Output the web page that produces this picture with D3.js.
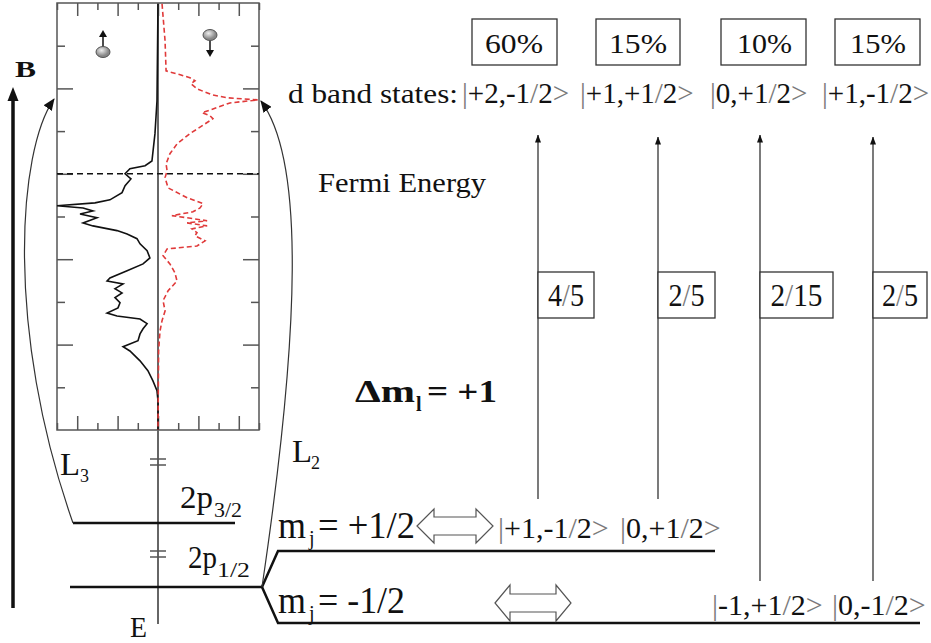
<!DOCTYPE html>
<html>
<head>
<meta charset="utf-8">
<script src="https://cdn.jsdelivr.net/npm/d3@7"></script>
<style>
  body { margin: 0; background: #fff; }
</style>
</head>
<body>
<div id="chart"></div>
<script>
// spin-resolved DOS, [energy (eV), states]
const spinUp = [[3.98,0],[1.71,0.05],[0.94,0.15],[0.30,0.3],[0.19,0.64],[0.12,1.39],[0,1.63],[-0.12,1.34],
  [-0.28,1.63],[-0.44,1.78],[-0.61,2.38],[-0.68,3.12],[-0.75,5.0],[-0.80,3.71],[-0.87,3.22],[-0.94,3.86],
  [-1.03,3.02],[-1.15,3.71],[-1.22,3.22],[-1.33,2.03],[-1.41,1.53],[-1.52,1.04],[-1.64,0.89],[-1.80,0.54],
  [-1.97,0.40],[-2.11,0.74],[-2.27,1.53],[-2.44,2.38],[-2.51,2.52],[-2.58,1.73],[-2.69,2.13],[-2.79,1.78],
  [-2.90,2.13],[-3.02,1.88],[-3.14,1.98],[-3.26,2.52],[-3.33,2.03],[-3.40,0.89],[-3.51,0.54],[-3.63,0.74],
  [-3.75,0.89],[-3.91,0.99],[-4.05,1.73],[-4.15,1.39],[-4.38,0.89],[-4.61,0.50],[-4.85,0.25],[-5.08,0.05],
  [-5.32,0],[-6,0]]
const spinDown = [[3.98,0.2],[3.11,0.35],[2.41,0.40],[2.32,1.1],[2.25,1.58],[2.18,1.83],[2.11,1.63],[1.99,1.93],
  [1.85,2.67],[1.78,3.42],[1.73,4.95],[1.66,3.56],[1.55,2.92],[1.43,2.18],[1.36,2.57],[1.29,2.72],[1.17,2.33],
  [0.94,1.58],[0.70,0.94],[0.47,0.59],[0.23,0.40],[0.07,0.45],[-0.09,0.35],[-0.33,0.50],[-0.56,1.44],
  [-0.70,2.23],[-0.80,2.08],[-0.89,1.73],[-0.98,0.69],[-1.03,1.44],[-1.10,2.43],[-1.15,1.44],[-1.22,2.43],
  [-1.29,1.68],[-1.38,1.93],[-1.45,1.83],[-1.57,2.33],[-1.69,1.93],[-1.76,0.45],[-1.92,0.25],[-2.11,0.59],
  [-2.32,0.84],[-2.51,0.94],[-2.74,0.50],[-2.97,0.25],[-3.21,0.35],[-3.44,0.20],[-3.68,0.10],[-4.15,0.03],[-6,0]]
const peakEnergy = 1.75

// transitions
const finalStates = ["|+2,-1/2>", "|+1,+1/2>", "|0,+1/2>", "|+1,-1/2>"]
const weights = ["60%", "15%", "10%", "15%"]
const initialStates = ["|+1,-1/2>", "|0,+1/2>", "|-1,+1/2>", "|0,-1/2>"]
const initialMj = ["+1/2", "+1/2", "-1/2", "-1/2"]
const probabilities = ["4/5", "2/5", "2/15", "2/5"]

// layout
const finalX = [462, 580, 710, 822]
const weightX = [472, 596, 721, 835], weightW = [85, 84, 85, 85]
const weightTX = [485, 609, 737, 850], weightTW = [58, 58, 55, 56]
const arrowX = [538, 658, 760, 873]
const fracW = [56, 57, 73, 54], fracTW = [36, 36, 52, 36]
const initX = [498, 620, 712, 832]

const SERIF = "'Liberation Serif', 'Times New Roman', Times, 'DejaVu Serif', serif"
const width = 931, height = 643
const svg = d3.select("#chart").append("svg")
  .attr("width", width).attr("height", height)
  .attr("font-family", SERIF)

const defs = svg.append("defs")
defs.append("marker").attr("id", "big").attr("viewBox", "0 0 12 10")
  .attr("refX", 11).attr("refY", 5).attr("markerWidth", 12).attr("markerHeight", 10)
  .attr("markerUnits", "userSpaceOnUse").attr("orient", "auto")
  .append("path").attr("d", "M0,0L12,5L0,10Z").attr("fill", "#111")
defs.append("marker").attr("id", "small").attr("viewBox", "0 0 8 6")
  .attr("refX", 7.5).attr("refY", 3).attr("markerWidth", 8).attr("markerHeight", 6)
  .attr("markerUnits", "userSpaceOnUse").attr("orient", "auto")
  .append("path").attr("d", "M0,0L8,3L0,6Z").attr("fill", "#111")
const grad = defs.append("radialGradient").attr("id", "ball").attr("cx", "40%").attr("cy", "35%")
grad.append("stop").attr("offset", "0%").attr("stop-color", "#eee")
grad.append("stop").attr("offset", "100%").attr("stop-color", "#888")

// DOS panel
const yE = d3.scaleLinear().domain([-6, 4]).range([430, 3])
const xD = d3.scaleLinear().domain([-5, 5]).range([57, 259])
const even = [-4, -2, 0, 2, 4], odd = [-5, -3, -1, 1, 3, 5]
const yEven = [-4, -2, 0, 2], yOdd = [-5, -3, -1, 1, 3]

const panel = svg.append("g").attr("stroke", "#555")
function ax(axis, vals, size, tx, ty) {
  const g = panel.append("g").attr("transform", `translate(${tx},${ty})`)
    .call(axis.tickValues(vals).tickSize(size).tickSizeOuter(0).tickFormat(""))
  g.select(".domain").remove()
  g.selectAll("line").attr("stroke", "#555").attr("stroke-width", 1.5)
}
ax(d3.axisLeft(yE), yEven, -16, 57, 0)
ax(d3.axisLeft(yE), yOdd, -8, 57, 0)
ax(d3.axisRight(yE), yEven, -16, 259, 0)
ax(d3.axisRight(yE), yOdd, -8, 259, 0)
ax(d3.axisTop(xD), even, -13, 0, 3)
ax(d3.axisTop(xD), odd, -7, 0, 3)
ax(d3.axisBottom(xD), even, -14, 0, 430)
ax(d3.axisBottom(xD), odd, -7, 0, 430)
panel.append("rect").attr("x", xD(-5)).attr("y", yE(4))
  .attr("width", xD(5) - xD(-5)).attr("height", yE(-6) - yE(4))
  .attr("fill", "none").attr("stroke-width", 1.5)

// energy axis through the middle, with breaks
svg.append("line").attr("x1", xD(0)).attr("x2", xD(0)).attr("y1", yE(4)).attr("y2", 624)
  .attr("stroke", "#666").attr("stroke-width", 2)
;[462, 554].forEach(y => {
  ;[-3, 3].forEach(d => svg.append("line").attr("x1", xD(0) - 8).attr("x2", xD(0) + 8)
    .attr("y1", y + d).attr("y2", y + d).attr("stroke", "#555").attr("stroke-width", 1.5))
})

svg.append("line").attr("x1", xD(-5)).attr("x2", xD(5)).attr("y1", yE(0)).attr("y2", yE(0))
  .attr("stroke", "#111").attr("stroke-width", 1.6).attr("stroke-dasharray", "6,4")

svg.append("path").datum(spinUp)
  .attr("d", d3.line().x(d => xD(-d[1])).y(d => yE(d[0])))
  .attr("fill", "none").attr("stroke", "#111").attr("stroke-width", 1.6)
svg.append("path").datum(spinDown)
  .attr("d", d3.line().x(d => xD(d[1])).y(d => yE(d[0])))
  .attr("fill", "none").attr("stroke", "#e03a3a").attr("stroke-width", 1.6).attr("stroke-dasharray", "5,3")

// spin icons
function spin(cx, cy, dir) {
  const g = svg.append("g")
  const base = cy + dir * 5, tip = cy + dir * 22
  g.append("line").attr("x1", cx).attr("x2", cx).attr("y1", base).attr("y2", tip - dir * 6)
    .attr("stroke", "#111").attr("stroke-width", 1.5)
  g.append("path").attr("d", `M${cx - 4},${tip - dir * 7}L${cx + 4},${tip - dir * 7}L${cx},${tip}Z`).attr("fill", "#111")
  g.append("ellipse").attr("cx", cx).attr("cy", cy).attr("rx", 7).attr("ry", 5.5)
    .attr("fill", "url(#ball)").attr("stroke", "#555").attr("stroke-width", 1)
}
spin(103, 52, -1)
spin(210, 35, 1)

// B field arrow
svg.append("line").attr("x1", 13).attr("x2", 13).attr("y1", 608).attr("y2", 98)
  .attr("stroke", "#111").attr("stroke-width", 3.5)
svg.append("path").attr("d", "M7.5,101L18.5,101L13,87Z").attr("fill", "#111")

// core levels
const lv = svg.append("g").attr("stroke", "#111").attr("stroke-width", 2.5).attr("fill", "none")
lv.append("line").attr("x1", 73).attr("x2", 235).attr("y1", 523).attr("y2", 523)
lv.append("line").attr("x1", 70).attr("x2", 262).attr("y1", 587).attr("y2", 587)
lv.append("path").attr("d", "M262,587L278,551L715,551")
lv.append("path").attr("d", "M262,587L278,623L920,623")

// L3 / L2 excitations onto the d peak
const pk = yE(peakEnergy)
const p3 = d3.path(); p3.moveTo(73, 523); p3.bezierCurveTo(5, 330, 18, 150, xD(-5) - 3, pk)
const p2 = d3.path(); p2.moveTo(262, 587); p2.bezierCurveTo(300, 330, 305, 160, xD(5) + 2, pk + 2)
;[p3, p2].forEach(p => svg.append("path").attr("d", p.toString()).attr("fill", "none")
  .attr("stroke", "#333").attr("stroke-width", 1.2).attr("marker-end", "url(#big)"))

// text helpers
function txt(x, y, s, size, len, opts = {}) {
  const t = svg.append("text").attr("x", x).attr("y", y).attr("font-size", size)
    .attr("font-family", SERIF).attr("fill", "#111")
  if (len) t.attr("textLength", len).attr("lengthAdjust", "spacingAndGlyphs")
  if (opts.bold) t.attr("font-weight", "bold")
  if (opts.ket) {
    s.split(/([|/>])/).filter(c => c).forEach(c => {
      t.append("tspan").text(c).attr("fill", /[|/>]/.test(c) ? "#7a7a7a" : "#111")
    })
  } else t.text(s)
  return t
}

txt(15, 77, "B", 23, 21, { bold: true })
txt(288, 103, "d band states:", 28, 170)
txt(318, 192, "Fermi Energy", 27, 168)

finalStates.forEach((s, i) => txt(finalX[i], 103, s, 29, 0, { ket: true }))
weights.forEach((s, i) => {
  svg.append("rect").attr("x", weightX[i]).attr("y", 19).attr("width", weightW[i]).attr("height", 46)
    .attr("fill", "none").attr("stroke", "#333").attr("stroke-width", 1.3)
  txt(weightTX[i], 53, s, 27, weightTW[i])
})

const arrowBottom = d3.scaleOrdinal().domain(["+1/2", "-1/2"]).range([499, 581])
const rowBase = d3.scaleOrdinal().domain(["+1/2", "-1/2"]).range([538, 615])
initialMj.forEach((m, i) => {
  svg.append("line").attr("x1", arrowX[i]).attr("x2", arrowX[i])
    .attr("y1", arrowBottom(m)).attr("y2", i % 2 ? 137 : 135)
    .attr("stroke", "#333").attr("stroke-width", 1.3).attr("marker-end", "url(#small)")
  svg.append("rect").attr("x", arrowX[i]).attr("y", 272).attr("width", fracW[i]).attr("height", 46)
    .attr("fill", "#fff").attr("stroke", "#333").attr("stroke-width", 1.3)
  txt(arrowX[i] + (fracW[i] - fracTW[i]) / 2, 306, probabilities[i], 31, fracTW[i], { ket: true })
  txt(initX[i], rowBase(m), initialStates[i], 30, 0, { ket: true })
})

// labels of the level scheme
txt(60, 475, "L", 32, 20); txt(80, 482, "3", 18)
txt(292, 462, "L", 32, 20); txt(311, 469, "2", 18)
txt(180, 508, "2p", 32, 33); txt(214, 517, "3/2", 20, 28)
txt(188, 568, "2p", 32, 29); txt(217, 577, "1/2", 20, 33)
txt(130, 637, "E", 30, 17)

;[["+1/2", 538, 97], ["-1/2", 613, 87]].forEach(([m, y, w]) => {
  txt(278, y, "m", 37, 28)
  txt(309, y + 7, "j", 20)
  txt(318, y, "= " + m, 37, w)
})

// hollow double arrows
function dbl(x0, x1, cy, hh, sh, hl) {
  const pts = [[x0, cy], [x0 + hl, cy - hh], [x0 + hl, cy - sh], [x1 - hl, cy - sh], [x1 - hl, cy - hh],
    [x1, cy], [x1 - hl, cy + hh], [x1 - hl, cy + sh], [x0 + hl, cy + sh], [x0 + hl, cy + hh]]
  svg.append("path").attr("d", d3.line()(pts) + "Z").attr("fill", "#fff")
    .attr("stroke", "#555").attr("stroke-width", 1.2)
}
dbl(417, 493, 526, 17, 9, 17)
dbl(495, 571, 603, 18, 9, 15)

// Delta m_l
txt(355, 402, "Δm", 32, 60, { bold: true })
txt(416, 411, "l", 20, 0, { bold: true })
txt(427, 402, "= +1", 32, 70, { bold: true })
</script>
</body>
</html>
